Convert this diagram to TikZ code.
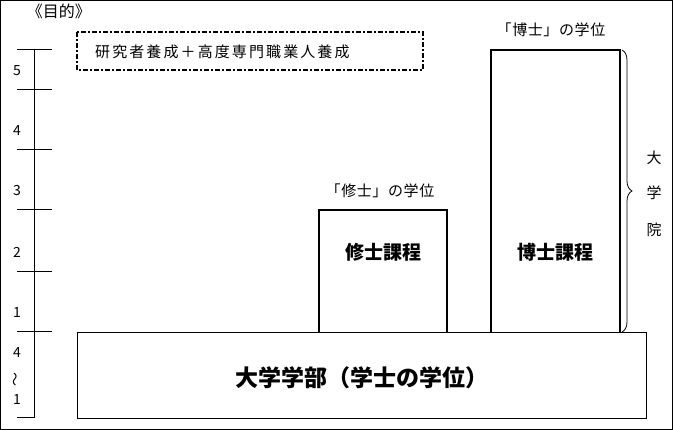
\documentclass[tikz,border=0pt]{standalone}
\usepackage{fontspec}
\setmainfont{Noto Sans CJK JP}
\newfontfamily\jpsp[LetterSpace=4]{Noto Sans CJK JP}
\newfontfamily\jpwide[LetterSpace=14]{Noto Sans CJK JP}
\usetikzlibrary{decorations.pathreplacing}
\begin{document}
\begin{tikzpicture}[x=1pt,y=-1pt,
  thin1/.style={line width=1pt},
  thick2/.style={line width=2pt},
  smalltxt/.style={font=\fontsize{15}{15}\selectfont\jpsp, inner sep=0pt},
  numtxt/.style={font=\fontsize{14}{14}\selectfont, inner sep=0pt},
  boxtxt/.style={font=\fontsize{19}{19}\selectfont\bfseries, inner sep=0pt},
  bigtxt/.style={font=\fontsize{23}{23}\selectfont\bfseries, inner sep=0pt}]
% outer frame
\draw[thin1] (0.5,0.5) rectangle (672.5,429.5);
\useasboundingbox (0,0) rectangle (673,430);
% axis
\coordinate (axtop) at (34,50);
\coordinate (axbot) at (34,418);
\draw[thin1] (axtop) -- (axbot);
\foreach \yy in {50,90,150,210,272,332} {\draw[thin1] (17,\yy) -- (52,\yy);}
\draw[thin1] (17,418) -- (34,418);
\node[numtxt] (n5) at (17,71) {5};
\node[numtxt] (n4) at (17,131) {4};
\node[numtxt] (n3) at (17,191) {3};
\node[numtxt] (n2) at (17,252) {2};
\node[numtxt] (n1) at (17,313) {1};
\node[numtxt] (u4) at (17,353) {4};
\node[numtxt, rotate=90] (ut) at (17,380) {～};
\node[numtxt] (u1) at (17,400) {1};
% title
\node[font=\fontsize{16}{16}\selectfont, inner sep=0pt] (goal) at (59,11) {《目的》};
% dashed box
\draw[line width=1.6pt, dash pattern=on 5pt off 2pt on 2pt off 2pt] (77,32) rectangle (423,70);
\node[font=\fontsize{15}{15}\selectfont\jpwide, inner sep=0pt, anchor=west] (purpose) at (95,52) {研究者養成＋高度専門職業人養成};
% undergraduate box
\node[draw, thin1, minimum width=569pt, minimum height=86pt, anchor=north west, inner sep=0pt] (ug) at (77,332) {};
\node[bigtxt] (ugt) at (ug.center) [yshift=-2pt] {大学学部（学士の学位）};
% master box
\draw[thick2] (319,332) -- (319,210) -- (447,210) -- (447,332);
\coordinate (mc) at (383,252);
\node[boxtxt] (mt) at (mc) {修士課程};
\node[smalltxt] (ml) at (380,191) {「修士」の学位};
% doctor box
\draw[thick2] (491,332) -- (491,50) -- (620,50) -- (620,332);
\coordinate (dc) at (555,252);
\node[boxtxt] (dt) at (dc) {博士課程};
\node[smalltxt] (dl) at (551,30) {「博士」の学位};
% brace
\coordinate (bt) at (622,50);
\coordinate (bb) at (622,332);
\draw[line width=0.8pt, decorate, decoration={brace, amplitude=10pt}] (bt) -- (bb);
\node[smalltxt] (g1) at (654,158) {大};
\node[smalltxt] (g2) at (654,193) {学};
\node[smalltxt] (g3) at (654,230) {院};
\end{tikzpicture}
\end{document}
